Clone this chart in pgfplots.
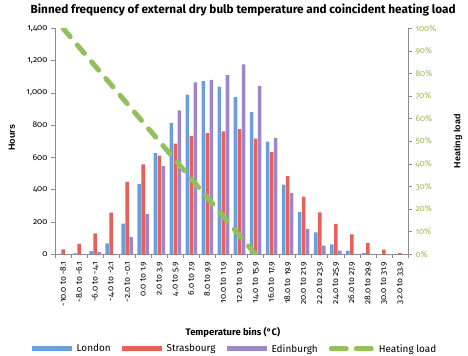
\documentclass[border=0pt]{standalone}
\usepackage{fontspec}
\setmainfont{Fira Sans}[Numbers=OldStyle]
\newfontfamily\arialf{Liberation Sans}
\usepackage{pgfplots}
\pgfplotsset{compat=1.18}
\definecolor{lon}{HTML}{6A9FDB}
\definecolor{stb}{HTML}{E8605B}
\definecolor{edi}{HTML}{9E87C6}
\definecolor{heat}{HTML}{92C15C}
\definecolor{heattxt}{HTML}{9BBB59}
\definecolor{axgray}{HTML}{8C8C8C}
\begin{document}
\begin{tikzpicture}
\useasboundingbox (0,0) rectangle (468bp,356bp);
\begin{axis}[
  at={(55bp,101.7bp)}, anchor=south west, scale only axis,
  width=353bp, height=226bp,
  xmin=-0.5, xmax=21.5, ymin=0, ymax=1400,
  axis x line*=bottom, axis y line*=left,
  axis line style={-, draw=axgray, line width=0.8pt},
  tick style={draw=axgray, line width=0.6pt},
  tick align=outside,
  major tick length=4bp, minor tick length=4bp,
  ytick={0,200,...,1400},
  scaled y ticks=false,
  /pgf/number format/assume math mode=true,
  yticklabel style={/pgf/number format/1000 sep={,}, font=\fontsize{8.5}{10}\selectfont, text=black},
  xtick={0,...,21},
  major x tick style={draw=none},
  minor xtick={-0.5,0.5,...,21.5},
  xticklabels={{-10.0 to -8.1},{-8.0 to -6.1},{-6.0 to -4.1},{-4.0 to -2.1},{-2.0 to -0.1},{0.0 to 1.9},{2.0 to 3.9},{4.0 to 5.9},{6.0 to 7.9},{8.0 to 9.9},{10.0 to 11.9},{12.0 to 13.9},{14.0 to 15.9},{16.0 to 17.9},{18.0 to 19.9},{20.0 to 21.9},{22.0 to 23.9},{24.0 to 25.9},{26.0 to 27.9},{28.0 to 29.9},{30.0 to 31.9},{32.0 to 33.9}},
  xticklabel style={rotate=90, anchor=east, font=\fontsize{8.5}{10}\selectfont},
  ybar, bar width=0.22,
  ylabel={Hours},
  ylabel style={at={(axis description cs:-0.122,0.515)}, anchor=center, font=\arialf\bfseries\fontsize{9}{10}\selectfont},
  xlabel={Temperature bins (°C)},
  xlabel style={at={(axis description cs:0.504,-0.344)}, anchor=center, font=\bfseries\fontsize{9.5}{11}\selectfont},
  title={Binned frequency of external dry bulb temperature and coincident heating load},
  title style={at={(axis description cs:0.533,1.056)}, anchor=center, font=\bfseries\fontsize{11.8}{13}\selectfont},
  legend columns=4,
  legend style={at={(axis description cs:0.51,-0.419)}, anchor=center, draw=none, fill=none,
    font=\fontsize{10}{11}\selectfont,
    /tikz/every odd column/.append style={column sep=3bp},
    /tikz/every even column/.append style={column sep=9bp}},
]
\addplot[fill=lon, draw=none, bar shift=-0.25,
  legend image code/.code={\fill[lon] (0bp,-2.5bp) rectangle (40bp,2.5bp);}]
  coordinates {(0,2)(1,5)(2,19)(3,68)(4,190)(5,436)(6,626)(7,814)(8,989)(9,1072)(10,1039)(11,973)(12,880)(13,698)(14,432)(15,262)(16,136)(17,62)(18,23)(19,8)(20,1)(21,0)};
\addlegendentry{London}
\addplot[fill=stb, draw=none, bar shift=0,
  legend image code/.code={\fill[stb] (0bp,-2.5bp) rectangle (40bp,2.5bp);}]
  coordinates {(0,31)(1,64)(2,130)(3,258)(4,448)(5,557)(6,611)(7,686)(8,733)(9,750)(10,762)(11,776)(12,717)(13,634)(14,485)(15,357)(16,260)(17,188)(18,124)(19,70)(20,29)(21,8)};
\addlegendentry{Strasbourg}
\addplot[fill=edi, draw=none, bar shift=0.25,
  legend image code/.code={\fill[edi] (0bp,-2.5bp) rectangle (40bp,2.5bp);}]
  coordinates {(0,0)(1,0)(2,14)(3,2)(4,107)(5,250)(6,547)(7,892)(8,1065)(9,1080)(10,1111)(11,1177)(12,1043)(13,721)(14,380)(15,157)(16,54)(17,23)(18,3)(19,0)(20,0)(21,0)};
\addlegendentry{Edinburgh}
\addlegendimage{legend image code/.code={\draw[heat, line width=5bp, line cap=round] (2.5bp,0)--(17.5bp,0) (27.5bp,0)--(42.5bp,0);}}
\addlegendentry{Heating load}
\end{axis}
\begin{axis}[
  at={(55bp,101.7bp)}, anchor=south west, scale only axis,
  width=353bp, height=226bp,
  xmin=-0.5, xmax=21.5, ymin=0, ymax=100,
  axis x line=none, axis y line*=right,
  axis line style={-, draw=axgray, line width=0.8pt},
  tick style={draw=axgray, line width=0.6pt},
  tick align=outside, major tick length=4bp,
  ytick={0,10,...,100},
  /pgf/number format/assume math mode=true,
  yticklabel={\pgfmathprintnumber{\tick}\%},
  yticklabel style={text=heattxt, font=\fontsize{8.5}{10}\selectfont},
  ylabel={Heating load},
  ylabel style={at={(axis description cs:1.142,0.5)}, anchor=center, font=\arialf\bfseries\fontsize{9}{10}\selectfont},
]
\addplot[heat, line width=5bp, line cap=round, dash pattern=on 11bp off 11bp]
  coordinates {(0,100)(1,91.667)(2,83.333)(3,75)(4,66.667)(5,58.333)(6,50)(7,41.667)(8,33.333)(9,25)(10,16.667)(11,8.333)(12,0)};
\end{axis}
\end{tikzpicture}
\end{document}
